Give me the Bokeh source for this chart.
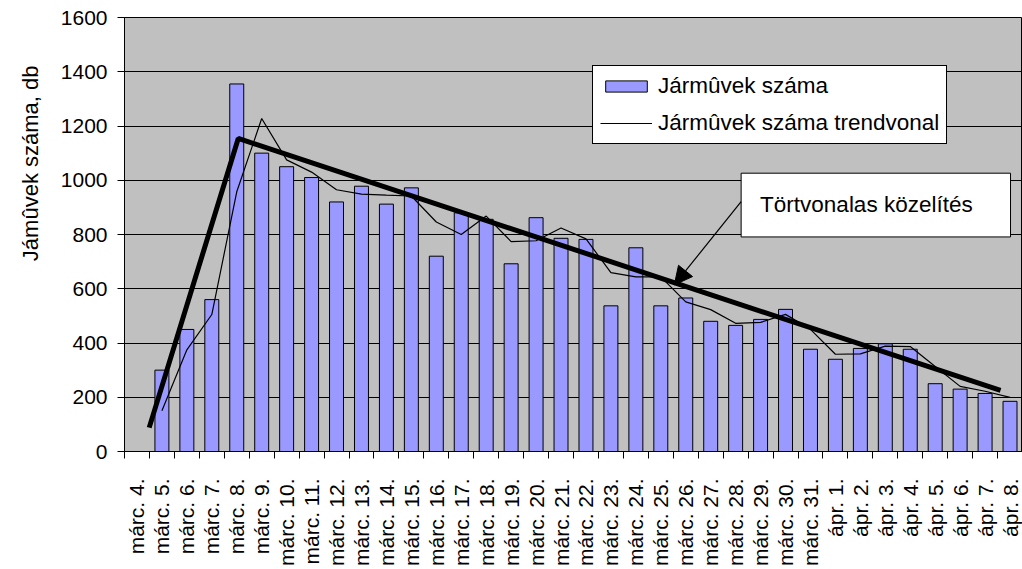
from math import pi
from bokeh.plotting import figure
from bokeh.models import (Range1d, FixedTicker, Legend, LegendItem, BoxAnnotation,
                          Label, Arrow, NormalHead, Title)
from bokeh.embed import file_html
from bokeh.resources import INLINE

# ---- data ----
days = ["márc. 4.", "márc. 5.", "márc. 6.", "márc. 7.", "márc. 8.", "márc. 9.",
        "márc. 10.", "márc. 11.", "márc. 12.", "márc. 13.", "márc. 14.", "márc. 15.",
        "márc. 16.", "márc. 17.", "márc. 18.", "márc. 19.", "márc. 20.", "márc. 21.",
        "márc. 22.", "márc. 23.", "márc. 24.", "márc. 25.", "márc. 26.", "márc. 27.",
        "márc. 28.", "márc. 29.", "márc. 30.", "márc. 31.", "ápr. 1.", "ápr. 2.",
        "ápr. 3.", "ápr. 4.", "ápr. 5.", "ápr. 6.", "ápr. 7.", "ápr. 8."]
vehicles = [0, 300, 450, 560, 1355, 1100, 1050, 1010, 920, 978, 912, 972,
            720, 880, 856, 692, 862, 786, 782, 537, 751, 537, 566, 480,
            465, 487, 524, 377, 340, 380, 397, 377, 250, 230, 214, 185]
# piecewise-linear approximation ("Törtvonalas közelítés"), in category-index units
approx_x = [0.49, 4.06, 34.62]
approx_y = [88, 1154, 225]
y_ticks = [0, 200, 400, 600, 800, 1000, 1200, 1400, 1600]

x = list(range(len(days)))
# 2-period moving-average trendline, as in the original chart
trend_x = x[1:]
trend_y = [(vehicles[i - 1] + vehicles[i]) / 2 for i in range(1, len(vehicles))]

FONT = "Liberation Sans"

p = figure(width=1022, height=569, output_backend="svg", toolbar_location=None,
           title=None,
           x_range=Range1d(-0.5, len(days) - 0.5), y_range=Range1d(0, 1600),
           min_border_left=122, min_border_right=0, min_border_top=17,
           min_border_bottom=117)
p.background_fill_color = "#C0C0C0"
p.border_fill_color = "white"
p.outline_line_color = "black"
p.outline_line_width = 1

# grid
p.xgrid.visible = False
p.ygrid.ticker = FixedTicker(ticks=y_ticks)
p.ygrid.grid_line_color = "black"
p.ygrid.grid_line_width = 1

# bars and lines
bars = p.vbar(x=x, top=vehicles, width=0.56, fill_color="#9999FF",
              line_color="black", line_width=1)
trend = p.line(trend_x, trend_y, line_color="black", line_width=1.2)
p.line(approx_x, approx_y, line_color="black", line_width=5)

# x axis
xa = p.xaxis[0]
xa.ticker = FixedTicker(ticks=x, minor_ticks=[i - 0.5 for i in range(len(days) + 1)])
xa.major_label_overrides = {i: d for i, d in enumerate(days)}
xa.major_label_orientation = pi / 2
xa.major_tick_in = 0
xa.major_tick_out = 0
xa.minor_tick_in = 0
xa.minor_tick_out = 7
xa.minor_tick_line_color = "black"
xa.major_label_standoff = 20
xa.major_label_text_font = FONT
xa.major_label_text_font_size = "21px"
xa.major_label_text_color = "black"
xa.axis_line_color = "black"

# y axis
ya = p.yaxis[0]
ya.ticker = FixedTicker(ticks=y_ticks)
ya.major_tick_in = 0
ya.major_tick_out = 7
ya.minor_tick_line_color = None
ya.major_label_standoff = 10
ya.major_label_text_font = FONT
ya.major_label_text_font_size = "21px"
ya.major_label_text_color = "black"
ya.axis_line_color = "black"

# y-axis title (placed high on the left, as in the original)
p.add_layout(Title(text="Jámûvek száma, db", align="right", offset=48,
                   standoff=30, text_font=FONT, text_font_size="22px",
                   text_font_style="normal", text_color="black"), "left")

# legend
legend = Legend(items=[LegendItem(label="Jármûvek száma", renderers=[bars]),
                       LegendItem(label="Jármûvek száma trendvonal", renderers=[trend])],
                location=(468, 307), orientation="vertical",
                border_line_color="black", border_line_width=1, border_line_alpha=1,
                background_fill_color="white", background_fill_alpha=1,
                label_text_font=FONT, label_text_font_size="22.5px",
                label_text_color="black",
                glyph_width=52, glyph_height=14, label_standoff=6,
                padding=7, spacing=11, label_height=25, margin=0)
p.add_layout(legend)

# annotation box with arrow
p.add_layout(BoxAnnotation(left=24.22, right=35.02, top=1026, bottom=791,
                           fill_color="white", fill_alpha=1,
                           line_color="black", line_alpha=1, line_width=1))
p.add_layout(Label(x=24.98, y=909, text="Törtvonalas közelítés",
                   text_baseline="middle", text_font=FONT, text_font_size="22.5px",
                   text_color="black"))
p.add_layout(Arrow(end=NormalHead(size=18, fill_color="black", line_color="black"),
                   x_start=24.22, y_start=921, x_end=21.54, y_end=614,
                   line_color="black", line_width=1.2))

open("out.html", "w").write(file_html(p, INLINE))
